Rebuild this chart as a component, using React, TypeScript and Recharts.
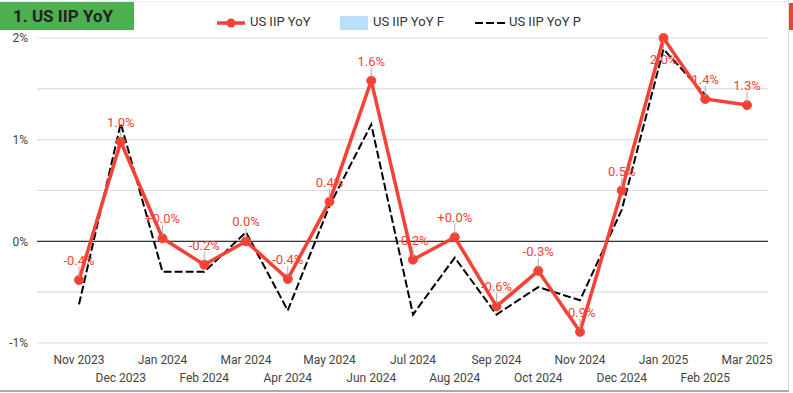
import React from "react";
import { LineChart, Line, XAxis, YAxis, CartesianGrid, ReferenceLine, LabelList } from "recharts";

const months = ["Nov 2023","Dec 2023","Jan 2024","Feb 2024","Mar 2024","Apr 2024","May 2024","Jun 2024","Jul 2024","Aug 2024","Sep 2024","Oct 2024","Nov 2024","Dec 2024","Jan 2025","Feb 2025","Mar 2025"];
const actual = [-0.38, 0.98, 0.03, -0.23, 0.0, -0.37, 0.39, 1.58, -0.18, 0.04, -0.64, -0.29, -0.89, 0.5, 2.0, 1.4, 1.34];
const prior = [-0.62, 1.16, -0.3, -0.3, 0.09, -0.68, 0.35, 1.15, -0.72, -0.16, -0.72, -0.45, -0.58, 0.31, 1.89, 1.44, null];
const labels = ["-0.4%","1.0%","+0.0%","-0.2%","0.0%","-0.4%","0.4%","1.6%","-0.2%","+0.0%","-0.6%","-0.3%","-0.9%","0.5%","2.0%","1.4%","1.3%"];
const yTicks = [-1, -0.5, 0, 0.5, 1, 1.5, 2];

const data = months.map((m, i) => ({ month: m, actual: actual[i], prior: prior[i] }));

const RED = "#f44336";
const FONT = "Roboto, 'Noto Sans', sans-serif";

const XTick = (props: any) => {
  const { x, y, payload } = props;
  const idx = payload && payload.index != null ? payload.index : props.index;
  const dy = idx % 2 === 0 ? 19 : 37;
  return (
    <text x={x} y={y + dy} textAnchor="middle" fontSize={12} fill="#444" fontFamily={FONT}>
      {payload.value}
    </text>
  );
};

const PointLabel = (props: any) => {
  const { x, y, index } = props;
  if (x == null || y == null) return null;
  const below = y < 50;
  if (below) {
    return (
      <g>
        <line x1={x} x2={x} y1={y + 3} y2={y + 12} stroke="#aaa" strokeWidth={1} />
        <text x={x} y={y + 26} textAnchor="middle" fontSize={13} fill={RED} fontFamily={FONT}>
          {labels[index]}
        </text>
      </g>
    );
  }
  return (
    <g>
      <line x1={x} x2={x} y1={y - 3} y2={y - 13} stroke="#aaa" strokeWidth={1} />
      <text x={x} y={y - 15} textAnchor="middle" fontSize={13} fill={RED} fontFamily={FONT}>
        {labels[index]}
      </text>
    </g>
  );
};

const legendText: React.CSSProperties = { fontSize: 13, color: "#333", fontFamily: FONT, whiteSpace: "nowrap" };

export default function App() {
  return (
    <div style={{ position: "absolute", left: 0, top: 0, width: 793, height: 393, background: "#fff", overflow: "hidden", fontFamily: FONT }}>
      <div style={{ position: "absolute", left: 0, top: 1, width: 788, height: 1, background: "#eee" }} />
      <div style={{ position: "absolute", left: 0, top: 2, width: 134, height: 28, background: "#4caf50" }} />
      <div style={{ position: "absolute", left: 13, top: 2, height: 28, lineHeight: "28px", fontSize: 17, fontWeight: 700, color: "#222", fontFamily: FONT }}>
        1. US IIP YoY
      </div>
      <div style={{ position: "absolute", left: 788, top: 0, width: 1, height: 392, background: "#ddd" }} />
      <div style={{ position: "absolute", left: 789, top: 3, width: 4, height: 27, background: RED }} />
      <div style={{ position: "absolute", left: 0, top: 390, width: 789, height: 2, background: "#aaa" }} />

      <div style={{ position: "absolute", left: 0, top: 12, width: 793, height: 22 }}>
        <svg style={{ position: "absolute", left: 216, top: 4 }} width={30} height={14}>
          <line x1={1} x2={29} y1={7} y2={7} stroke={RED} strokeWidth={3.5} />
          <circle cx={15} cy={7} r={4.5} fill={RED} />
        </svg>
        <div style={{ ...legendText, position: "absolute", left: 250, top: 2 }}>US IIP YoY</div>
        <div style={{ position: "absolute", left: 340, top: 4, width: 28, height: 14, background: "#bbdefb" }} />
        <div style={{ ...legendText, position: "absolute", left: 373, top: 2 }}>US IIP YoY F</div>
        <svg style={{ position: "absolute", left: 474, top: 4 }} width={32} height={14}>
          <line x1={1} x2={31} y1={7} y2={7} stroke="#000" strokeWidth={2} strokeDasharray="8 3" />
        </svg>
        <div style={{ ...legendText, position: "absolute", left: 509, top: 2 }}>US IIP YoY P</div>
      </div>

      <div style={{ position: "absolute", left: 0, top: 0 }}>
        <LineChart width={793} height={393} data={data} margin={{ top: 38, right: 25, left: 0, bottom: 0 }}>
          <CartesianGrid vertical={false} stroke="#ddd" strokeWidth={1.2} />
          <XAxis
            dataKey="month"
            interval={0}
            tick={<XTick />}
            tickLine={false}
            axisLine={false}
            tickSize={0}
            height={50}
            padding={{ left: 42, right: 21 }}
          />
          <YAxis
            width={37}
            domain={[-1, 2]}
            ticks={yTicks}
            tickLine={false}
            axisLine={false}
            tickSize={0}
            tickMargin={9}
            tick={{ fontSize: 12, fill: "#444", fontFamily: FONT }}
            tickFormatter={(v: number) => (Number.isInteger(v) ? `${v}%` : "")}
          />
          <ReferenceLine y={0} stroke="#333" strokeWidth={1.2} />
          <Line
            type="linear"
            dataKey="prior"
            stroke="#000"
            strokeWidth={2}
            strokeDasharray="8 3"
            dot={false}
            activeDot={false}
            isAnimationActive={false}
            connectNulls={false}
          />
          <Line
            type="linear"
            dataKey="actual"
            stroke={RED}
            strokeWidth={3.5}
            dot={{ r: 4.5, fill: RED, stroke: RED, strokeWidth: 1 }}
            activeDot={false}
            isAnimationActive={false}
          >
            <LabelList dataKey="actual" content={<PointLabel />} />
          </Line>
        </LineChart>
      </div>
    </div>
  );
}
